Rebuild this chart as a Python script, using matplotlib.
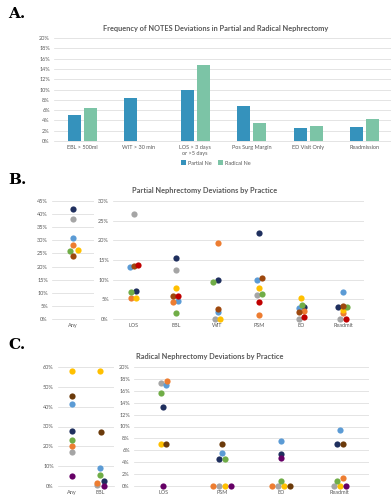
import matplotlib.pyplot as plt
import numpy as np

# ---- données ----
W, H = 391, 499

# Panneau A
cat_A = ["EBL > 500ml", "WIT > 30 min", "LOS > 3 days\nor >5 days", "Pos Surg Margin", "ED Visit Only", "Readmission"]
partial_A = [5.0, 8.4, 10.0, 6.8, 2.6, 2.8]
radical_A = [6.5, 0.0, 14.8, 3.5, 2.9, 4.2]

# couleurs des pratiques
prac_B = ["#1F2F5E", "#A5A5A5", "#5B9BD5", "#ED7D31", "#FFC000", "#70AD47", "#9E480E", "#C00000"]
prac_C = ["#1F2F5E", "#A5A5A5", "#5B9BD5", "#ED7D31", "#FFC000", "#70AD47", "#6B3A0A", "#660066"]

# Panneau B (ordre : marine, gris, bleu, orange, jaune, vert, brun, rouge)
any_B = [42.0, 38.3, 31.0, 28.2, 26.5, 25.8, 24.0, None]
any_B_jit = [0, 0, 0, 0, 0.12, -0.08, 0, 0]
cat_B = ["LOS", "EBL", "WIT", "PSM", "ED", "Readmit"]
vals_B = [
    [7.1, 26.6, 13.3, 5.3, 5.4, 6.8, 13.6, 13.8],
    [15.6, 12.4, 4.6, 4.4, 8.0, 1.5, 5.9, 5.9],
    [10.0, 0.0, 1.8, 19.4, 0.0, 9.4, 2.6, None],
    [21.9, 6.2, 9.8, 1.0, 8.0, 6.3, 10.3, 4.4],
    [3.0, 0.0, 2.9, 2.0, 5.4, 3.6, 1.7, 0.6],
    [3.1, 0.0, 6.9, 1.5, 2.4, 3.1, 3.3, 0.0],
]
jit_B = [
    [0.06, 0.01, -0.1, -0.06, 0.06, -0.06, 0, 0.1],
    [0, 0, 0.06, -0.06, 0, 0, -0.06, 0.06],
    [0, -0.06, 0, 0, 0.06, -0.1, 0, 0],
    [-0.02, -0.06, -0.06, 0, 0, 0.06, 0.06, 0],
    [0.06, -0.06, -0.06, 0.06, 0, 0.01, -0.06, 0.06],
    [-0.12, -0.08, 0, 0, 0, 0.1, 0, 0.06],
]

# Panneau C (ordre : marine, gris, bleu, orange, jaune, vert, brun, violet)
cat_C_left = ["Any", "EBL"]
vals_C_left = [
    [27.5, 17.3, 41.3, 20.0, 58.1, 23.3, 45.3, 5.0],
    [2.5, 0.3, 9.3, 1.5, 58.1, 5.5, 27.2, 0.0],
]
jit_C_left = [
    [0, 0, 0, 0, 0, 0, 0, 0],
    [0.13, -0.1, 0, -0.1, 0, 0, 0.02, 0.13],
]
cat_C = ["LOS", "PSM", "ED", "Readmit"]
vals_C = [
    [13.2, 17.3, 16.9, 17.6, 7.1, 15.7, 7.1, 0.0],
    [4.6, 0.0, 5.6, 0.0, 0.0, 4.6, 7.1, 0.0],
    [5.4, 0.0, 7.5, 0.0, 0.0, 0.9, 0.0, 4.7],
    [7.0, 0.0, 9.4, 1.4, 0.0, 0.9, 7.1, 0.0],
]
jit_C = [
    [0, -0.04, 0.05, 0.06, -0.04, -0.04, 0.05, 0],
    [-0.05, -0.05, 0, -0.15, 0.05, 0.05, 0, 0.15],
    [0, -0.05, 0, -0.15, 0.05, 0, 0.15, 0],
    [-0.05, -0.1, 0, 0.05, 0, -0.05, 0.05, 0.1],
]

plt.rcParams['font.family'] = ['Lato', 'DejaVu Sans']
TXT = "#595959"
GRID = "#D9D9D9"
FS = 4.0


def box(l, t, r, b):
    return [l / W, 1 - b / H, (r - l) / W, (b - t) / H]


def style(ax, ymax, step):
    ax.set_ylim(0, ymax)
    ax.set_yticks(np.arange(0, ymax + 0.01, step))
    ax.set_yticklabels([f"{int(round(v))}%" for v in np.arange(0, ymax + 0.01, step)])
    ax.grid(axis="y", color=GRID, lw=0.5)
    ax.set_axisbelow(True)
    for s in ["top", "right", "left"]:
        ax.spines[s].set_visible(False)
    ax.spines["bottom"].set_color(GRID)
    ax.spines["bottom"].set_linewidth(0.5)
    ax.tick_params(length=0, labelsize=FS, labelcolor=TXT, pad=3)


def dots(ax, vals, jit, colors):
    for i, (row, jr) in enumerate(zip(vals, jit)):
        for v, j, c in zip(row, jr, colors):
            if v is None:
                continue
            ax.scatter(i + j, v, s=20, color=c, zorder=3, linewidths=0, clip_on=False)


fig = plt.figure(figsize=(W / 100, H / 100), dpi=100)

def letter(y, t):
    fig.text(8 / W, 1 - y / H, t, family="DejaVu Serif", weight="bold", fontsize=11, va="center", ha="left")

def title(x, y, t):
    fig.text(x / W, 1 - y / H, t, fontsize=5.3, weight="bold", color=TXT, ha="center", va="center")

# ---- A ----
letter(14, "A.")
title(216, 28, "Frequency of NOTES Deviations in Partial and Radical Nephrectomy")
axA = fig.add_axes(box(54, 38, 393, 141))
x = np.arange(len(cat_A))
axA.bar(x - 0.145, partial_A, 0.23, color="#3592BC", label="Partial Ne")
axA.bar(x + 0.145, radical_A, 0.23, color="#7CC4A6", label="Radical Ne")
axA.set_xlim(-0.5, len(cat_A) - 0.5)
style(axA, 20, 2)
axA.set_xticks(x)
axA.set_xticklabels(cat_A, linespacing=1.3)
axA.legend(loc="center", bbox_to_anchor=(216 / W, 1 - 163 / H), bbox_transform=fig.transFigure,
           ncol=2, frameon=False, fontsize=FS, handlelength=0.8, handleheight=0.8,
           columnspacing=1.2, handletextpad=0.4, labelcolor=TXT)

# ---- B ----
letter(180, "B.")
title(205, 191, "Partial Nephrectomy Deviations by Practice")
axB1 = fig.add_axes(box(52, 201, 94, 319))
dots(axB1, [any_B], [any_B_jit], prac_B)
axB1.set_xlim(-0.5, 0.5)
style(axB1, 45, 5)
axB1.set_xticks([0])
axB1.set_xticklabels(["Any"])

axB2 = fig.add_axes(box(113, 201, 364, 319))
dots(axB2, vals_B, jit_B, prac_B)
axB2.set_xlim(-0.5, len(cat_B) - 0.5)
style(axB2, 30, 5)
axB2.set_xticks(range(len(cat_B)))
axB2.set_xticklabels(cat_B)

# ---- C ----
letter(345, "C.")
title(210, 357, "Radical Nephrectomy Deviations by Practice")
axC1 = fig.add_axes(box(58, 367, 114, 486))
dots(axC1, vals_C_left, jit_C_left, prac_C)
axC1.set_xlim(-0.5, 1.5)
style(axC1, 60, 10)
axC1.set_xticks(range(2))
axC1.set_xticklabels(cat_C_left)

axC2 = fig.add_axes(box(134, 367, 369, 486))
dots(axC2, vals_C, jit_C, prac_C)
axC2.set_xlim(-0.5, len(cat_C) - 0.5)
style(axC2, 20, 2)
axC2.set_xticks(range(len(cat_C)))
axC2.set_xticklabels(cat_C)

fig.savefig("out.png", dpi=100)
